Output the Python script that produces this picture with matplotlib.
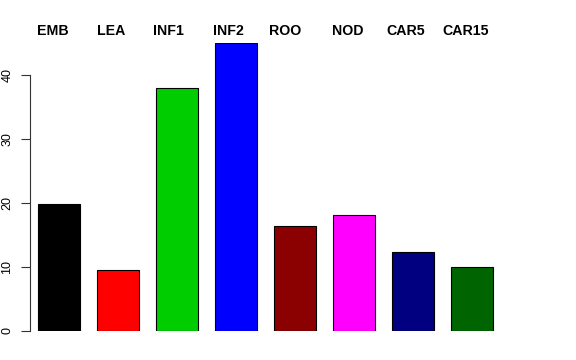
import matplotlib
matplotlib.use("Agg")
import matplotlib.pyplot as plt

categories = ["EMB", "LEA", "INF1", "INF2", "ROO", "NOD", "CAR5", "CAR15"]
values = [19.8, 9.5, 38.0, 45.0, 16.4, 18.1, 12.3, 10.05]
bar_colors = ["#000000", "#FF0000", "#00CD00", "#0000FF",
              "#8B0000", "#FF00FF", "#000080", "#006400"]
y_ticks = [0, 10, 20, 30, 40]

# small nudges (pixels) of each header label from its bar's left edge
label_nudge_px = [-1, 0, -3, -2, -5, -1, -6, -9]

plt.rcParams["font.family"] = ["Liberation Sans", "DejaVu Sans"]

fig = plt.figure(figsize=(5.76, 3.6), dpi=100)
ax = fig.add_axes([30 / 576, 29 / 360, 490 / 576, 288 / 360])

width = 0.712
xs = list(range(len(categories)))
ax.bar(xs, values, width=width, color=bar_colors, edgecolor="black", linewidth=0.8)

ax.set_xlim(-29 / 59, 461 / 59)
ax.set_ylim(0, 45)

for s in ["top", "right", "bottom"]:
    ax.spines[s].set_visible(False)
ax.spines["left"].set_bounds(0, 40)
ax.spines["left"].set_linewidth(0.8)
ax.spines["left"].set_color("#333333")
ax.set_xticks([])
ax.set_yticks(y_ticks)
ax.set_yticklabels([str(t) for t in y_ticks], rotation=90, va="center", fontsize=9)
ax.tick_params(axis="y", length=6.5, width=0.8, pad=5.5, color="#333333")

for x, name, nudge in zip(xs, categories, label_nudge_px):
    ax.annotate(name, xy=(x - width / 2, 1 - 35 / 360),
                xycoords=("data", "figure fraction"),
                xytext=(nudge * 0.72, 0), textcoords="offset points",
                ha="left", va="baseline", fontsize=10.2, fontweight="bold")

fig.savefig("out.png", dpi=100)
